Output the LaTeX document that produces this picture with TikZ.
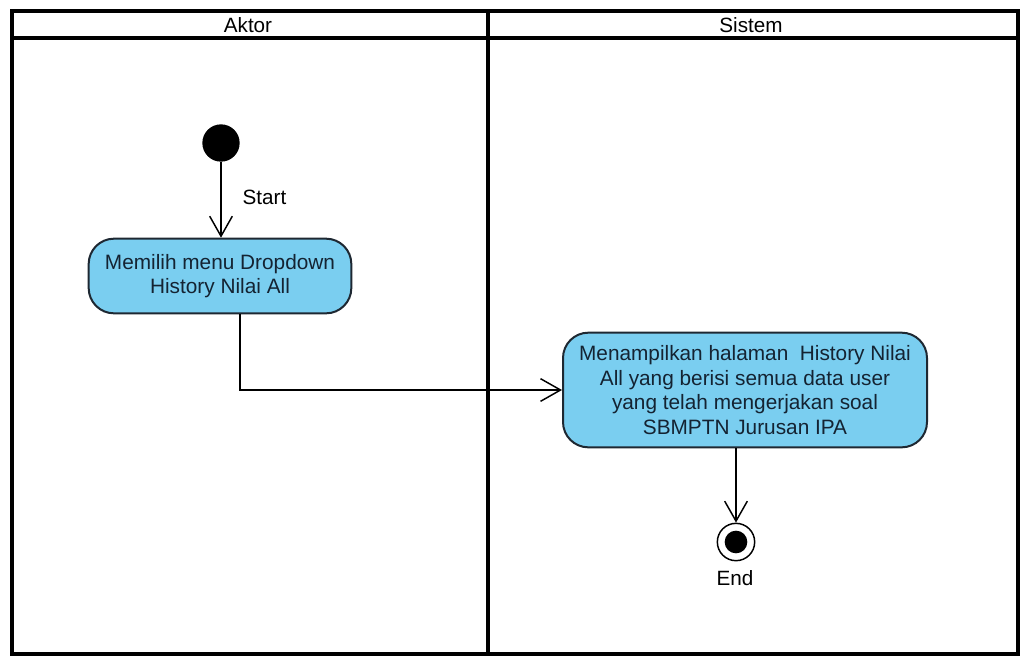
\documentclass[tikz,border=0pt]{standalone}
\usepackage{fontspec}
\setmainfont{Liberation Sans}
\usetikzlibrary{arrows.meta}
\definecolor{actfill}{RGB}{122,206,240}
\definecolor{actline}{RGB}{30,40,50}
\definecolor{acttext}{RGB}{20,35,50}
\begin{document}
\begin{tikzpicture}[x=0.75pt,y=-0.75pt,
  frame/.style={line width=2.4pt,black},
  activity/.style={draw=actline,fill=actfill,line width=1.5pt,rounded corners=19pt,align=center,text=acttext,font=\fontsize{15.6}{18.4}\selectfont,inner sep=0pt},
  flow/.style={line width=1.1pt,-{Straight Barb[length=15pt,width=17pt,line width=1.1pt]}},
  lbl/.style={font=\fontsize{15.5}{17}\selectfont}]
\useasboundingbox (0,0) rectangle (1020,657);
\fill[white] (0,0) rectangle (1020,657);
% swimlanes
\draw[frame] (12,11) rectangle (1018,654);
\draw[frame] (12,38) -- (1018,38);
\draw[frame] (488,11) -- (488,654);
\node[lbl] (aktor) at (248,25) {Aktor};
\node[lbl] (sistem) at (751,25) {Sistem};
% nodes
\node[circle,fill=black,minimum size=28pt,inner sep=0pt] (start) at (221,143) {};
\node[lbl,anchor=west] (startlbl) at (238,197) {Start};
\node[activity,minimum width=197pt,minimum height=56pt] (a1) at (220,276) {Memilih menu Dropdown\\History Nilai All};
\node[activity,minimum width=273pt,minimum height=86pt] (a2) at (745,390) {Menampilkan halaman\ \ History Nilai\\All yang berisi semua data user\\yang telah mengerjakan soal\\SBMPTN Jurusan IPA};
\node[circle,draw=black,line width=1.1pt,minimum size=28pt,inner sep=0pt] (end) at (736,542) {};
\fill[black] (end.center) circle (8.5pt);
\node[lbl] (endlbl) at (735,578) {End};
% flows
\draw[flow] (start) -- (start |- a1.north);
\coordinate (bend) at (240,390);
\draw[flow] (a1.south -| bend) -- (bend) -- (a2.west);
\draw[flow] (a2.south -| end) -- (end);
\end{tikzpicture}
\end{document}
